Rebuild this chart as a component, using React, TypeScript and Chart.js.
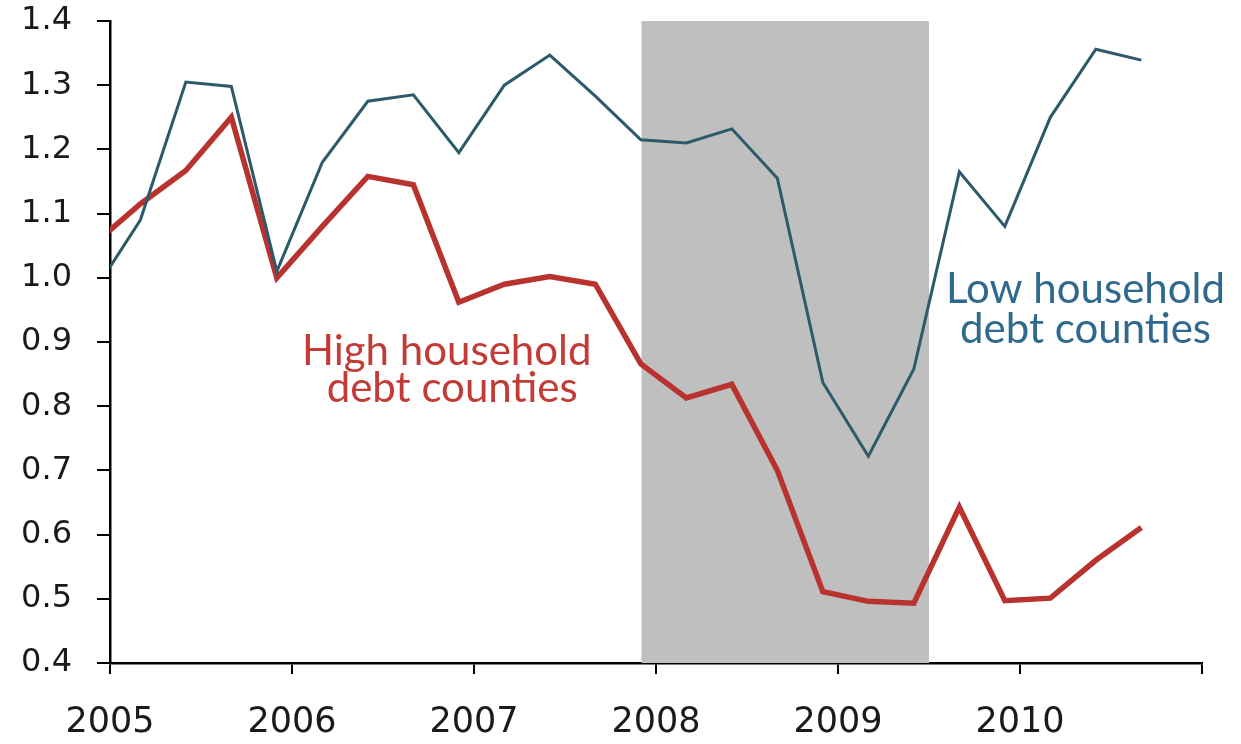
import React, { useEffect, useRef } from "react";
import { Chart, registerables } from "chart.js";

Chart.register(...registerables);

// Quarterly observation dates (year-month)
const periods = [
  "2004-12", "2005-03", "2005-06", "2005-09", "2005-12",
  "2006-03", "2006-06", "2006-09", "2006-12",
  "2007-03", "2007-06", "2007-09", "2007-12",
  "2008-03", "2008-06", "2008-09", "2008-12",
  "2009-03", "2009-06", "2009-09", "2009-12",
  "2010-03", "2010-06", "2010-09",
];

const lowDebt = [
  0.98, 1.09, 1.305, 1.298, 1.01,
  1.18, 1.275, 1.285, 1.195,
  1.3, 1.347, 1.283, 1.215,
  1.21, 1.232, 1.155, 0.837,
  0.722, 0.858, 1.165, 1.08,
  1.25, 1.356, 1.339,
];

const highDebt = [
  1.054, 1.115, 1.167, 1.25, 1.0,
  1.08, 1.158, 1.145, 0.962,
  0.99, 1.002, 0.99, 0.866,
  0.813, 0.834, 0.7, 0.511,
  0.496, 0.493, 0.643, 0.497,
  0.501, 0.56, 0.611,
];

const yearTicks = [2005, 2006, 2007, 2008, 2009, 2010, 2011];
const yMin = 0.4;
const yMax = 1.4;
const recession = [2007.92, 2009.5];

const highLabel = ["High household", "debt counties"];
const lowLabel = ["Low household", "debt counties"];

function toYear(p: string): number {
  const [y, m] = p.split("-").map(Number);
  return y + (m - 1) / 12;
}

const RED = "#B8322E";
const TEAL = "#2D5A6B";

export default function App() {
  const ref = useRef<HTMLCanvasElement | null>(null);

  useEffect(() => {
    document.body.style.margin = "0";
    const canvas = ref.current;
    if (!canvas) return;

    const shadePlugin = {
      id: "shade",
      beforeDatasetsDraw(chart: any) {
        const { ctx, scales } = chart;
        const x = scales.x, y = scales.y;
        const x0 = x.getPixelForValue(recession[0]);
        const x1 = x.getPixelForValue(recession[1]);
        const y0 = y.getPixelForValue(yMax);
        const y1 = y.getPixelForValue(yMin);
        ctx.save();
        ctx.fillStyle = "#BFBFBF";
        ctx.fillRect(x0, y0, x1 - x0, y1 - y0);
        ctx.restore();
      },
    };

    const textPlugin = {
      id: "annot",
      afterDatasetsDraw(chart: any) {
        const { ctx, scales } = chart;
        const x = scales.x, y = scales.y;
        ctx.save();
        ctx.font = "42px Lato";
        ctx.textAlign = "center";
        ctx.textBaseline = "alphabetic";
        ctx.fillStyle = "#C23B36";
        ctx.fillText(highLabel[0], x.getPixelForValue(2006.85), y.getPixelForValue(0.864));
        ctx.fillText(highLabel[1], x.getPixelForValue(2006.88), y.getPixelForValue(0.806));
        ctx.fillStyle = "#2F6A8E";
        ctx.fillText(lowLabel[0], x.getPixelForValue(2010.36), y.getPixelForValue(0.961));
        ctx.fillText(lowLabel[1], x.getPixelForValue(2010.36), y.getPixelForValue(0.899));
        ctx.restore();
      },
    };

    const chart = new Chart(canvas, {
      type: "line",
      data: {
        datasets: [
          {
            label: "Low household debt counties",
            data: periods.map((p, i) => ({ x: toYear(p), y: lowDebt[i] })),
            borderColor: TEAL,
            borderWidth: 3,
            pointRadius: 0,
            tension: 0,
            clip: 0,
          },
          {
            label: "High household debt counties",
            data: periods.map((p, i) => ({ x: toYear(p), y: highDebt[i] })),
            borderColor: RED,
            borderWidth: 5.5,
            pointRadius: 0,
            tension: 0,
            clip: 0,
          },
        ],
      },
      options: {
        animation: false,
        responsive: false,
        maintainAspectRatio: false,
        layout: { padding: { top: 0, right: 39, left: 0, bottom: 0 } },
        plugins: {
          legend: { display: false },
          tooltip: { enabled: false },
        },
        scales: {
          x: {
            type: "linear",
            min: yearTicks[0],
            max: yearTicks[yearTicks.length - 1],
            afterBuildTicks: (scale: any) => {
              scale.ticks = yearTicks.map((v) => ({ value: v }));
            },
            afterFit: (scale: any) => {
              scale.height = 81;
            },
            grid: {
              drawOnChartArea: false,
              drawTicks: true,
              tickLength: 11,
              color: "#000",
              lineWidth: 2,
            },
            border: { display: true, color: "#000", width: 2.5 },
            ticks: {
              autoSkip: false,
              maxRotation: 0,
              padding: 28,
              color: "#1a1a1a",
              font: { family: "DejaVu Sans", size: 35 },
              callback: (v: any) => (v === 2011 ? "" : String(v)),
            },
          },
          y: {
            min: yMin,
            max: yMax,
            afterFit: (scale: any) => {
              scale.width = 110;
              scale.paddingTop = 21;
              scale.paddingBottom = 0;
            },
            grid: {
              drawOnChartArea: false,
              drawTicks: true,
              tickLength: 13,
              color: "#000",
              lineWidth: 2,
            },
            border: { display: true, color: "#000", width: 2.5 },
            ticks: {
              stepSize: 0.1,
              padding: 25,
              color: "#1a1a1a",
              font: { family: "DejaVu Sans", size: 32 },
              callback: (v: any) => Number(v).toFixed(1),
            },
          },
        },
      },
      plugins: [shadePlugin, textPlugin],
    });

    return () => chart.destroy();
  }, []);

  return (
    <div style={{ position: "fixed", left: 0, top: 0, width: 1241, height: 744, background: "#fff" }}>
      <canvas ref={ref} width={1241} height={744} />
    </div>
  );
}
